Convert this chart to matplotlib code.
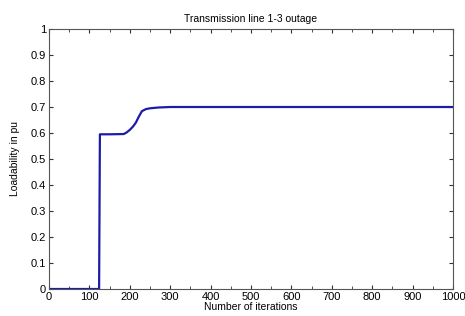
import matplotlib
matplotlib.use("Agg")
from matplotlib import pyplot as plt
from matplotlib.ticker import MultipleLocator

# loadability vs iteration
iterations = [0, 124, 125, 126, 127, 150, 185, 192, 200, 208, 215, 222, 230, 240, 250, 270, 300, 1000]
loadability = [0.0, 0.0, 0.3, 0.595, 0.595, 0.595, 0.596, 0.602, 0.612, 0.625, 0.64, 0.662, 0.684, 0.692, 0.695, 0.698, 0.7, 0.7]

plt.rcParams['font.family'] = ['Liberation Sans', 'DejaVu Sans']

fig = plt.figure(figsize=(4.65, 3.16), dpi=100)
ax = fig.add_axes([49 / 465, 1 - 289 / 316, 404 / 465, 260 / 316])

ax.plot(iterations, loadability, color='#1c1ca8', linewidth=1.6)

ax.set_xlim(0, 1000)
ax.set_ylim(0, 1)
ax.xaxis.set_major_locator(MultipleLocator(100))
ax.xaxis.set_minor_locator(MultipleLocator(50))
ax.set_yticks([i / 10 for i in range(11)])
ax.set_yticklabels(['0', '0.1', '0.2', '0.3', '0.4', '0.5', '0.6', '0.7', '0.8', '0.9', '1'])
ax.tick_params(which='both', direction='in', top=True, right=True, labelsize=8, color='#333333', pad=2)
ax.tick_params(which='major', length=3)
ax.tick_params(which='minor', length=2)
for s in ax.spines.values():
    s.set_color('#555555')
    s.set_linewidth(0.8)

ax.set_title("Transmission line 1-3 outage", fontsize=7.5, pad=5)
ax.set_xlabel("Number of iterations", fontsize=7.5, labelpad=0)
ax.set_ylabel("Loadability in pu", fontsize=7.5, labelpad=8)

plt.savefig("out.png", dpi=100)
